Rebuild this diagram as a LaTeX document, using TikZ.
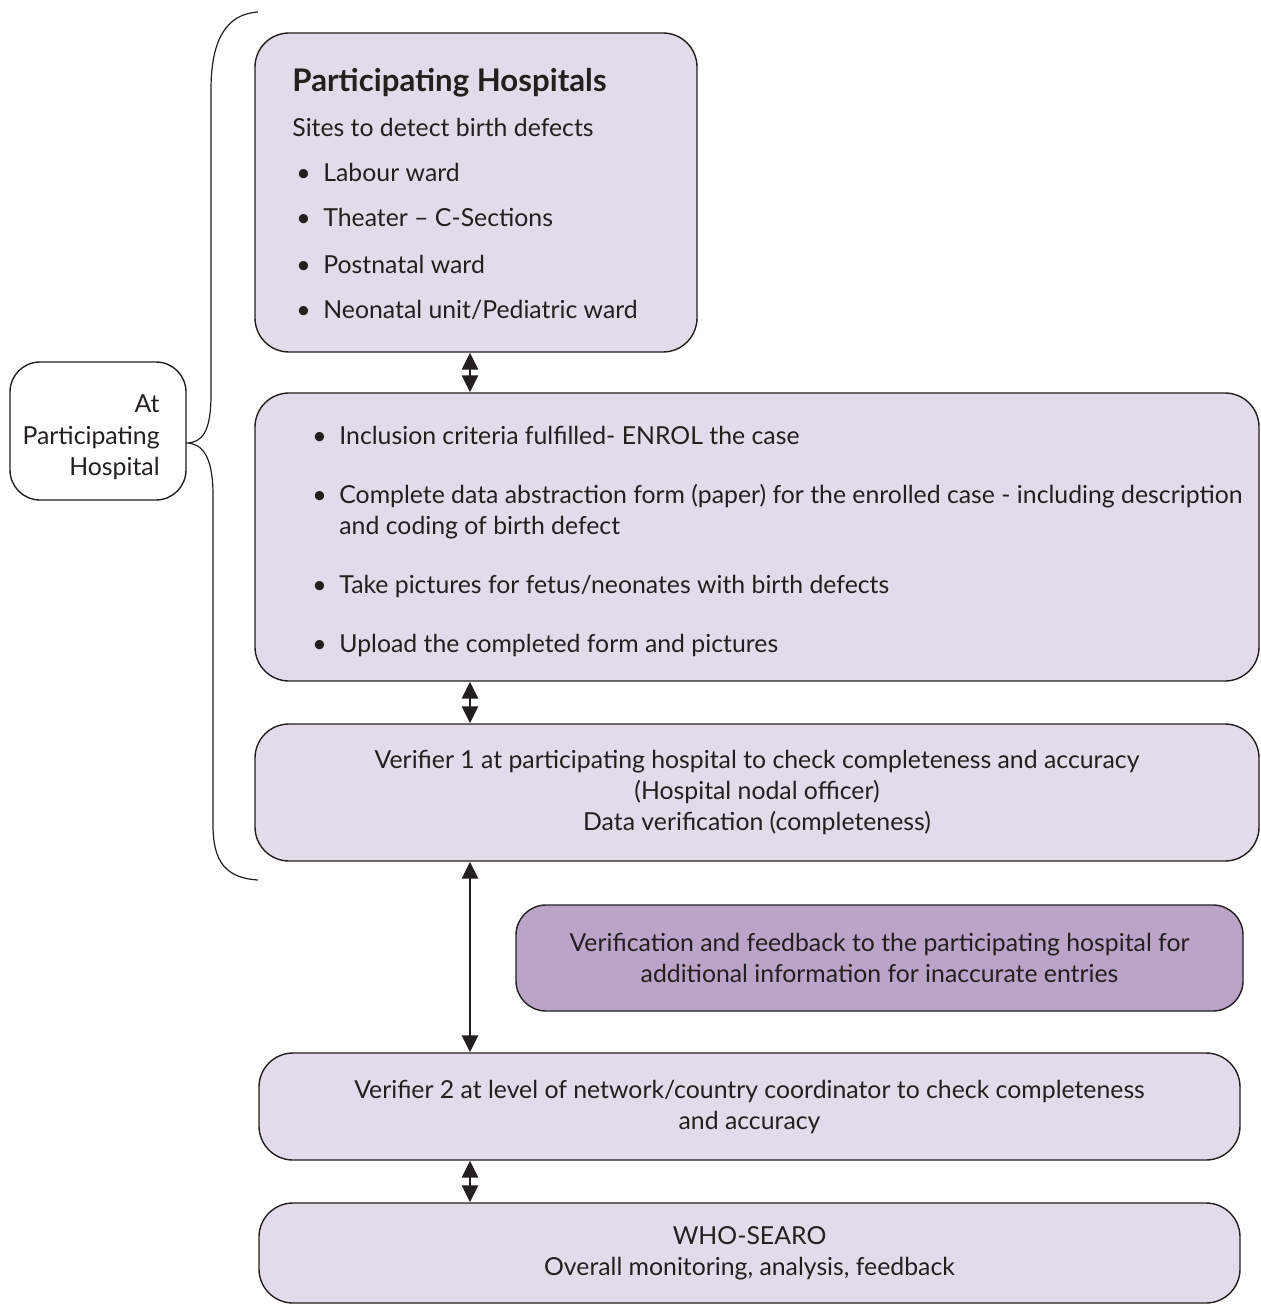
\documentclass[tikz,border=0pt]{standalone}
\usepackage{fontspec}
\setmainfont{Lato}
\usetikzlibrary{arrows.meta}
\definecolor{lilac}{RGB}{226,220,234}
\definecolor{lilacdark}{RGB}{186,164,200}
\definecolor{ink}{RGB}{35,31,32}
\begin{document}
\begin{tikzpicture}[x=0.5pt,y=-0.5pt,
  every node/.style={text=ink, font=\fontsize{12.4}{15.5}\selectfont},
  box/.style={draw=ink, line width=0.7pt, fill=lilac, rounded corners=17pt, inner sep=0pt, align=center},
  darkbox/.style={box, fill=lilacdark, rounded corners=15pt},
  sidebox/.style={box, fill=white, rounded corners=15pt},
  lbl/.style={anchor=base west, inner sep=0pt},
  blt/.style={anchor=base west, inner sep=0pt},
  rlbl/.style={anchor=base east, inner sep=0pt},
  dbl/.style={draw=ink, line width=1.3pt, {Triangle[width=8pt,length=8.5pt]}-{Triangle[width=8pt,length=8.5pt]}},
  brace/.style={draw=ink, line width=0.6pt}]
\useasboundingbox (0,0) rectangle (1260,1305);

% boxes
\node[box, minimum width=221pt, minimum height=159.5pt] (hosp) at (476,192.5) {};
\node[box, minimum width=502pt, minimum height=144pt] (enrol) at (757,537) {};
\node[box, minimum width=502pt, minimum height=68.5pt] (ver1) at (757,792.5)
  {Verifier 1 at participating hospital to check completeness and accuracy\\(Hospital nodal officer)\\Data verification (completeness)};
\node[darkbox, minimum width=363.5pt, minimum height=53pt] (feed) at (879.5,958)
  {Verification and feedback to the participating hospital for\\additional information for inaccurate entries};
\node[box, minimum width=490.5pt, minimum height=53.5pt] (ver2) at (749.5,1106.5)
  {Verifier 2 at level of network/country coordinator to check completeness\\and accuracy};
\node[box, minimum width=490.5pt, minimum height=50pt] (who) at (749.5,1253)
  {WHO-SEARO\\Overall monitoring, analysis, feedback};
\node[sidebox, minimum width=88pt, minimum height=69pt] (at) at (98,431) {};

% left box text
\node[rlbl] (at1) at (160,412) {At};
\node[rlbl] (at2) at (160,444) {Participating};
\node[rlbl] (at3) at (160,475) {Hospital};

% hospital box text
\node[lbl, font=\fontsize{15.6}{18}\selectfont\bfseries] (title) at (292,92) {Participating Hospitals};
\node[lbl] (sites) at (292,137) {Sites to detect birth defects};
\foreach \y/\t [count=\i] in {182/{Labour ward}, 227/{Theater -- C-Sections}, 273/{Postnatal ward}, 318/{Neonatal unit/Pediatric ward}}{
  \node[blt] (hb\i) at (296,\y) {\textbullet};
  \node[lbl] (ht\i) at (323,\y) {\t};
}

% enrol box text
\node[blt] (eb1) at (312,444) {\textbullet};
\node[lbl] (et1) at (339,444) {Inclusion criteria fulfilled- ENROL the case};
\node[blt] (eb2) at (312,503) {\textbullet};
\node[lbl] (et2) at (339,503) {Complete data abstraction form (paper) for the enrolled case - including description};
\node[lbl] (et2b) at (339,534) {and coding of birth defect};
\node[blt] (eb3) at (312,593) {\textbullet};
\node[lbl] (et3) at (339,593) {Take pictures for fetus/neonates with birth defects};
\node[blt] (eb4) at (312,652) {\textbullet};
\node[lbl] (et4) at (339,652) {Upload the completed form and pictures};

% arrows
\coordinate (ax) at (470,0);
\draw[dbl] (ax |- hosp.south) -- (ax |- enrol.north);
\draw[dbl] (ax |- enrol.south) -- (ax |- ver1.north);
\draw[dbl] (ax |- ver1.south) -- (ax |- ver2.north);
\draw[dbl] (ax |- ver2.south) -- (ax |- who.north);

% brace
\coordinate (btop) at (258,12);
\coordinate (bbot) at (258,880);
\coordinate (btip) at (186,443);
\draw[brace] (btop) .. controls (226,14) and (211,40) .. (211,90) -- (211,395)
  .. controls (211,432) and (202,443) .. (btip)
  .. controls (202,443) and (213,456) .. (213,495) -- (213,825)
  .. controls (213,862) and (226,878) .. (bbot);
\end{tikzpicture}
\end{document}
